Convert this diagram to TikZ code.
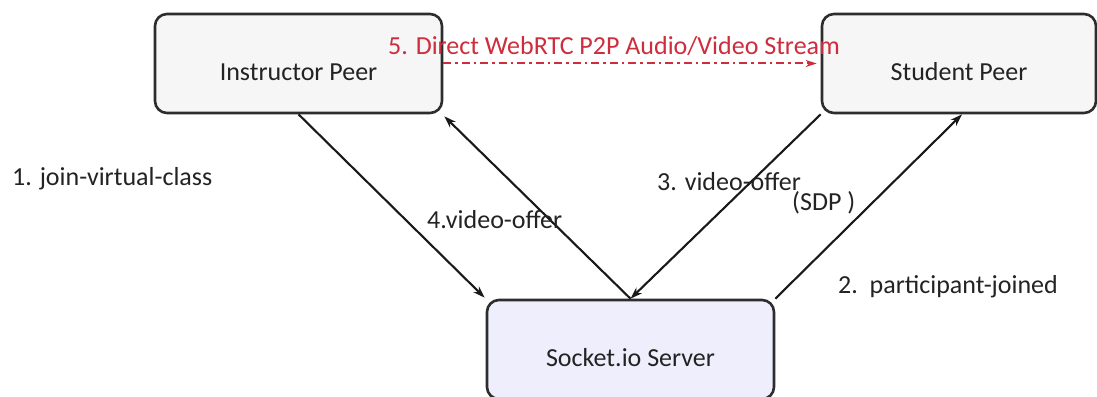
\documentclass[tikz,border=0pt]{standalone}
\usepackage{fontspec}
\setmainfont{Carlito}
\usetikzlibrary{arrows.meta}
\definecolor{boxfill}{RGB}{246,246,246}
\definecolor{srvfill}{RGB}{238,238,252}
\definecolor{edge}{RGB}{45,45,45}
\definecolor{txt}{RGB}{35,35,35}
\definecolor{webrtc}{RGB}{205,45,60}
\begin{document}
\begin{tikzpicture}[x=1pt,y=-1pt,
  peer/.style={draw=edge, line width=2.6pt, rounded corners=12pt, fill=boxfill,
    minimum width=287pt, minimum height=99pt, text height=34pt, text depth=0pt,
    font=\fontsize{26}{30}\selectfont, text=txt, inner sep=0pt},
  msg/.style={-{Stealth[length=12pt,width=8pt]}, line width=2.1pt, draw=black!90},
  p2p/.style={draw=webrtc, line width=2pt, dash pattern=on 8pt off 4pt on 2.5pt off 4pt,
    -{Stealth[length=11pt,width=7pt]}},
  lbl/.style={anchor=base west, inner sep=0pt, font=\fontsize{26}{30}\selectfont, text=txt}]
\useasboundingbox (0,0) rectangle (1097,396);
\fill[white] (0,0) rectangle (1097,396);
\node[peer] (ins) at (298.5,63.5) {Instructor Peer};
\node[peer, minimum width=274pt] (stu) at (959,63.5) {Student Peer};
\node[peer, fill=srvfill] (srv) at (630.5,349.5) {Socket.io Server};
\draw[msg] (ins.south) -- ([shift={(-1,-1)}]srv.north west);
\draw[msg] (srv.north) -- ([shift={(1,2)}]ins.south east);
\draw[msg] (stu.south west) -- (srv.north);
\draw[msg] (srv.north east) -- ([xshift=3pt]stu.south);
\draw[p2p] (ins.east) -- ([xshift=-4pt]stu.west);
\node[lbl, text=webrtc] (l5) at (388,55) {5. Direct WebRTC P2P Audio/Video Stream};
\node[lbl] (l1) at (12,185) {1. join-virtual-class};
\node[lbl] (l4) at (427,228) {4.video-offer};
\node[lbl] (l3) at (657,190) {3. video-offer};
\node[lbl] (l3b) at (792,210) {(SDP )};
\node[lbl] (l2) at (838,293) {2.\ \ participant-joined};
\end{tikzpicture}
\end{document}
